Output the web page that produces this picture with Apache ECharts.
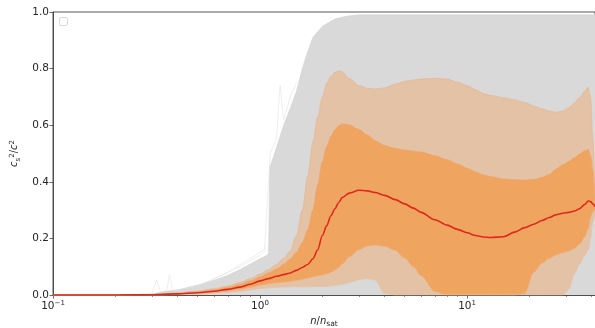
<!DOCTYPE html>
<html>
<head>
<meta charset="utf-8">
<script src="https://cdn.jsdelivr.net/npm/echarts@6/dist/echarts.min.js"></script>
<style>
  html, body { margin: 0; padding: 0; background: #fff; }
  #chart { width: 595px; height: 328px; }
</style>
</head>
<body>
<div id="chart"></div>
<script>
// density grid (n / n_sat) shared by the quantile bands and the median
const density = [0.1, 0.2, 0.3, 0.4, 0.5, 0.6, 0.7, 0.8, 0.9, 1.0, 1.1, 1.2, 1.3, 1.4, 1.5, 1.6, 1.7, 1.8, 1.9, 2.0,
  2.1, 2.2, 2.3, 2.4, 2.5, 2.7, 3.0, 3.3, 3.6, 4.0, 4.5, 5, 5.5, 6, 7, 8, 9, 10, 11, 12, 13, 15, 17, 19, 21, 23, 25,
  27, 29, 31, 33, 35, 37, 38.5, 39.5, 40.5, 41.5]

const median = [0, 0, 0.001, 0.004, 0.008, 0.013, 0.02, 0.028, 0.038, 0.05, 0.058, 0.066, 0.072, 0.078, 0.087, 0.097,
  0.108, 0.128, 0.16, 0.21, 0.245, 0.28, 0.305, 0.327, 0.345, 0.36, 0.37, 0.368, 0.362, 0.352, 0.337, 0.322, 0.307,
  0.292, 0.266, 0.247, 0.232, 0.22, 0.21, 0.205, 0.203, 0.206, 0.222, 0.238, 0.25, 0.263, 0.274, 0.284, 0.289, 0.292,
  0.297, 0.305, 0.32, 0.332, 0.33, 0.322, 0.312]

// outer band (light orange)
const outerUpper = [0, 0, 0.003, 0.008, 0.014, 0.022, 0.032, 0.044, 0.058, 0.074, 0.09, 0.108, 0.13, 0.155, 0.21, 0.3,
  0.42, 0.54, 0.63, 0.7, 0.748, 0.772, 0.787, 0.792, 0.788, 0.765, 0.74, 0.73, 0.728, 0.732, 0.745, 0.755, 0.76,
  0.763, 0.766, 0.763, 0.752, 0.74, 0.725, 0.712, 0.705, 0.697, 0.69, 0.68, 0.668, 0.658, 0.65, 0.645, 0.65, 0.662,
  0.678, 0.698, 0.72, 0.734, 0.7, 0.55, 0.33]
const outerLower = [0, 0, 0, 0.001, 0.003, 0.006, 0.009, 0.013, 0.018, 0.023, 0.026, 0.027, 0.028, 0.029, 0.029, 0.029,
  0.029, 0.03, 0.03, 0.03, 0.031, 0.032, 0.034, 0.036, 0.038, 0.044, 0.054, 0.058, 0.053, 0.005, 0, 0, 0, 0, 0, 0, 0,
  0, 0, 0, 0, 0, 0, 0, 0, 0, 0, 0, 0, 0.02, 0.075, 0.11, 0.14, 0.16, 0.2, 0.26, 0.29]

// inner band (dark orange)
const innerUpper = [0, 0, 0.002, 0.006, 0.011, 0.018, 0.027, 0.037, 0.05, 0.064, 0.078, 0.092, 0.108, 0.127, 0.15, 0.185,
  0.23, 0.3, 0.39, 0.47, 0.525, 0.56, 0.583, 0.598, 0.604, 0.601, 0.585, 0.565, 0.545, 0.528, 0.518, 0.512, 0.508,
  0.505, 0.492, 0.478, 0.463, 0.448, 0.435, 0.424, 0.418, 0.41, 0.407, 0.406, 0.408, 0.415, 0.426, 0.445, 0.46, 0.472,
  0.485, 0.498, 0.51, 0.515, 0.49, 0.44, 0.32]
const innerLower = [0, 0, 0, 0.002, 0.005, 0.009, 0.014, 0.02, 0.027, 0.035, 0.04, 0.043, 0.046, 0.048, 0.052, 0.056,
  0.06, 0.064, 0.068, 0.071, 0.075, 0.08, 0.088, 0.098, 0.11, 0.135, 0.16, 0.173, 0.177, 0.172, 0.158, 0.13, 0.1,
  0.068, 0.012, 0, 0, 0, 0, 0, 0, 0, 0, 0.005, 0.08, 0.112, 0.13, 0.142, 0.15, 0.155, 0.165, 0.18, 0.205, 0.235,
  0.275, 0.295, 0.305]

// envelope of all the grey sample curves
const greyDensity = [0.3, 0.32, 0.36, 0.4, 0.5, 0.6, 0.7, 0.8, 0.9, 1.0, 1.08, 1.1, 1.115, 1.2, 1.3, 1.4, 1.5, 1.6,
  1.7, 1.8, 2.0, 2.3, 2.6, 3.0, 5, 10, 20, 41.5]
const greyUpper = [0, 0.008, 0.014, 0.018, 0.035, 0.052, 0.07, 0.09, 0.11, 0.128, 0.14, 0.15, 0.45, 0.52, 0.6, 0.66,
  0.72, 0.8, 0.86, 0.91, 0.95, 0.975, 0.985, 0.99, 0.99, 0.99, 0.99, 0.99]

// a few stray sample curves outside the envelope
const strayA = [[0.3, 0.004], [0.317, 0.053], [0.33, 0.012], [0.355, 0.016], [0.365, 0.071], [0.38, 0.016], [0.5, 0.03], [0.8, 0.1], [1.0, 0.14], [1.1, 0.165]]
const strayB = [[0.5, 0.032], [0.7, 0.08], [0.9, 0.13], [1.05, 0.16], [1.12, 0.5], [1.2, 0.55], [1.25, 0.74], [1.3, 0.62], [1.4, 0.7], [1.5, 0.75]]

const majorTicks = [0.1, 1, 10]
const minorTicks = [0.2, 0.3, 0.4, 0.5, 0.6, 0.7, 0.8, 0.9, 2, 3, 4, 5, 6, 7, 8, 9, 20, 30, 40]
const yTicks = [0, 0.2, 0.4, 0.6, 0.8, 1.0]

const GREY = '#d9d9d9'
const LIGHT = '#e3c2a6'
const DARK = '#efa45f'
const RED = '#dc2a1e'
const INK = '#262626'

const pairs = (xs, ys) => xs.map((x, i) => [x, ys[i]])

function band(name, xs, ys, color, edge, z) {
  return {
    name, type: 'line', data: pairs(xs, ys), showSymbol: false, smooth: 0.3, smoothMonotone: 'x',
    lineStyle: { width: edge ? 0.8 : 0, color: edge || color },
    areaStyle: { color, opacity: 1 },
    z, silent: true
  }
}

const chart = echarts.init(document.getElementById('chart'), null, { renderer: 'canvas' })

const supRich = {
  sup: { fontSize: 7, verticalAlign: 'top', padding: [0, 0, 6, 0], color: INK, fontFamily: 'DejaVu Sans' }
}

chart.setOption({
  animation: false,
  grid: {
    left: 53, right: 0, top: 12, bottom: 33, containLabel: false, outerBoundsMode: 'none',
    show: true, borderColor: '#444', borderWidth: 0.9, backgroundColor: 'transparent'
  },
  xAxis: [
    {
      type: 'log', logBase: 10, min: 0.1, max: 41.5,
      name: '{i|n}{t|/}{i|n}{s|sat}', nameLocation: 'middle', nameGap: 20,
      nameTextStyle: {
        rich: {
          i: { fontStyle: 'italic', fontSize: 10, color: INK, fontFamily: 'DejaVu Sans' },
          t: { fontSize: 10, color: INK, fontFamily: 'DejaVu Sans' },
          s: { fontSize: 7.5, color: INK, fontFamily: 'DejaVu Sans', padding: [5, 0, 0, 0] }
        }
      },
      axisLine: { show: true, onZero: false, lineStyle: { color: '#444', width: 0.9 } },
      axisTick: { show: true, inside: false, length: 3.5, lineStyle: { color: '#444', width: 0.8 }, customValues: majorTicks },
      axisLabel: {
        customValues: majorTicks, margin: 5, color: INK, fontSize: 10.5, fontFamily: 'DejaVu Sans',
        formatter: v => '10{sup|' + Math.round(Math.log10(v)).toString().replace('-', '−') + '}',
        rich: supRich
      },
      splitLine: { show: false }
    },
    {
      type: 'log', logBase: 10, min: 0.1, max: 41.5, position: 'bottom',
      axisLine: { show: false },
      axisTick: { show: true, length: 2, lineStyle: { color: '#444', width: 0.6 }, customValues: minorTicks },
      axisLabel: { show: false },
      splitLine: { show: false }
    }
  ],
  yAxis: {
    type: 'value', min: 0, max: 1, interval: 0.2,
    name: '{i|c}{s|s}{p|2}{t|/}{i|c}{p|2}', nameLocation: 'middle', nameGap: 31, nameRotate: 90,
    nameTextStyle: {
      rich: {
        i: { fontStyle: 'italic', fontSize: 10, color: INK, fontFamily: 'DejaVu Sans' },
        t: { fontSize: 10, color: INK, fontFamily: 'DejaVu Sans' },
        s: { fontSize: 7, color: INK, fontFamily: 'DejaVu Sans', padding: [6, 0, 0, 0] },
        p: { fontSize: 7, color: INK, fontFamily: 'DejaVu Sans', padding: [0, 0, 6, 0] }
      }
    },
    axisLine: { show: true, lineStyle: { color: '#444', width: 0.9 } },
    axisTick: { show: true, length: 3.5, lineStyle: { color: '#444', width: 0.8 } },
    axisLabel: { margin: 4, color: INK, fontSize: 10.5, fontFamily: 'DejaVu Sans', formatter: v => yTicks.includes(+v.toFixed(1)) ? v.toFixed(1) : '' },
    splitLine: { show: false }
  },
  graphic: [
    { type: 'rect', shape: { x: 59.5, y: 17.5, width: 8, height: 8, r: 1.5 }, style: { fill: '#fff', stroke: '#d0d0d0', lineWidth: 0.8 }, z: 100 }
  ],
  series: [
    {
      name: 'samples', type: 'line', data: pairs(greyDensity, greyUpper), showSymbol: false,
      lineStyle: { width: 0.6, color: '#d2d2d2' }, areaStyle: { color: GREY, opacity: 1 }, z: 1, silent: true
    },
    { name: 'strayA', type: 'line', data: strayA, showSymbol: false, lineStyle: { width: 0.6, color: '#e2e2e2' }, z: 1, silent: true },
    { name: 'strayB', type: 'line', data: strayB, showSymbol: false, lineStyle: { width: 0.6, color: '#e2e2e2' }, z: 1, silent: true },
    band('outer', density, outerUpper, LIGHT, '#eab892', 2),
    band('inner', density, innerUpper, DARK, '#f0a468', 3),
    band('innerLow', density, innerLower, LIGHT, '#eeae7c', 4),
    band('outerLow', density, outerLower, GREY, '#e6c3a8', 5),
    {
      name: 'median', type: 'line', data: pairs(density, median), showSymbol: false, smooth: 0.3, smoothMonotone: 'x',
      lineStyle: { width: 1.6, color: RED }, z: 10, silent: true
    }
  ]
})
</script>
</body>
</html>
